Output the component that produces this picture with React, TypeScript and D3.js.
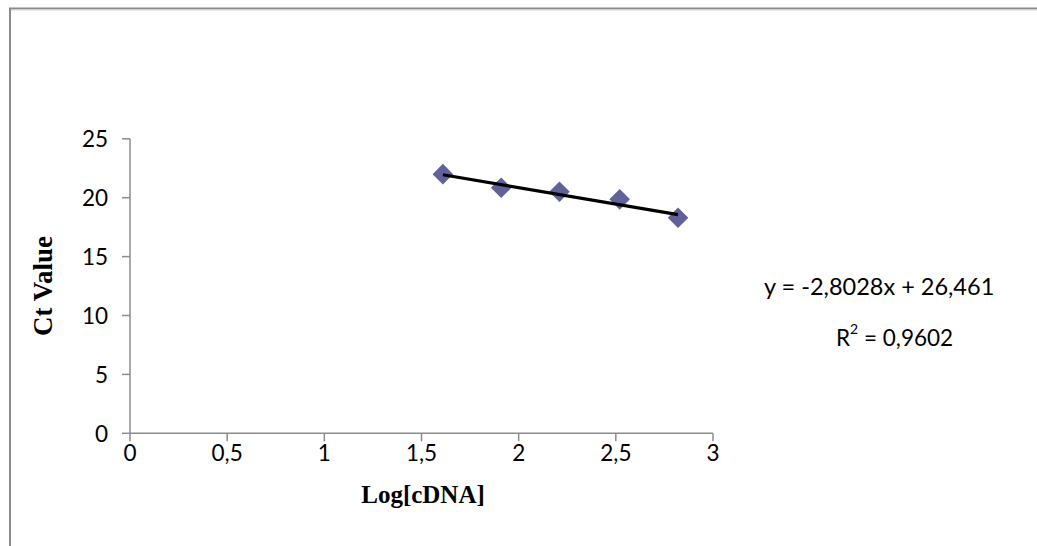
import React from "react";
import * as d3 from "d3";

const logCDNA = [1.61, 1.91, 2.21, 2.52, 2.82];
const ctValues = [22.0, 20.85, 20.5, 19.86, 18.3];
const xTicks = [0, 0.5, 1, 1.5, 2, 2.5, 3];
const yTicks = [0, 5, 10, 15, 20, 25];
const slope = -2.8028;
const intercept = 26.461;
const equationText = "y = -2,8028x + 26,461";
const r2Text = "0,9602";

const W = 1037;
const H = 546;

export default function App() {
  const x = d3.scaleLinear().domain([0, 3]).range([130, 713]);
  const y = d3.scaleLinear().domain([0, 25]).range([433.3, 138.8]);
  const fmt = (v: number) => String(v).replace(".", ",");
  const [x0, x1] = d3.extent(logCDNA) as [number, number];
  const trend = d3.line<number>().x((d) => x(d)).y((d) => y(slope * d + intercept));
  const diamond = d3.symbol().type(d3.symbolDiamond2).size(270)();
  const tickFont = "Lato, 'Open Sans', sans-serif";
  const tickSize = 22.5;
  const axisColor = "#8c8c8c";
  const serif = "'Liberation Serif', 'Times New Roman', serif";

  return (
    <svg
      width={W}
      height={H}
      style={{ position: "absolute", left: 0, top: 0, display: "block", background: "#fff" }}
    >
      <rect x={10} y={8.5} width={W + 20} height={H + 20} fill="#fff" stroke="#8a8a8a" strokeWidth={2} />
      <line x1={11} y1={10} x2={W} y2={10} stroke="#d6d6d6" strokeWidth={1} />
      {/* y axis */}
      <line x1={x(0)} y1={y(25)} x2={x(0)} y2={y(0)} stroke={axisColor} strokeWidth={1.5} />
      {yTicks.map((t) => (
        <g key={"y" + t}>
          <line x1={x(0) - 8} x2={x(0)} y1={y(t)} y2={y(t)} stroke={axisColor} strokeWidth={1.5} />
          <text
            x={x(0) - 22}
            y={y(t)}
            textAnchor="end"
            dominantBaseline="central"
            fontFamily={tickFont}
            fontSize={tickSize}
            fill="#000"
          >
            {fmt(t)}
          </text>
        </g>
      ))}
      {/* x axis */}
      <line x1={x(0)} y1={y(0)} x2={x(3)} y2={y(0)} stroke={axisColor} strokeWidth={1.5} />
      {xTicks.map((t) => (
        <g key={"x" + t}>
          <line x1={x(t)} x2={x(t)} y1={y(0)} y2={y(0) + 8} stroke={axisColor} strokeWidth={1.5} />
          <text
            x={x(t)}
            y={y(0) + 19}
            textAnchor="middle"
            dominantBaseline="central"
            fontFamily={tickFont}
            fontSize={tickSize}
            fill="#000"
          >
            {fmt(t)}
          </text>
        </g>
      ))}
      {/* markers */}
      {logCDNA.map((v, i) => (
        <path key={"m" + i} d={diamond || ""} transform={`translate(${x(v)},${y(ctValues[i])})`} fill="#62629a" />
      ))}
      {/* trendline */}
      <path d={trend([x0, x1]) || ""} fill="none" stroke="#000" strokeWidth={3.2} />
      {/* axis titles */}
      <text
        x={423}
        y={494}
        textAnchor="middle"
        dominantBaseline="central"
        fontFamily={serif}
        fontWeight="bold"
        fontSize={25}
      >
        Log[cDNA]
      </text>
      <text
        transform={`translate(43,286) rotate(-90)`}
        textAnchor="middle"
        dominantBaseline="central"
        fontFamily={serif}
        fontWeight="bold"
        fontSize={27}
      >
        Ct Value
      </text>
      {/* equation */}
      <text x={764} y={286} dominantBaseline="central" fontFamily={tickFont} fontSize={23.5}>
        {equationText}
      </text>
      <text x={836} y={337} dominantBaseline="central" fontFamily={tickFont} fontSize={tickSize}>
        R<tspan dy={-9} fontSize={14}>2</tspan>
        <tspan dy={9}>{" = " + r2Text}</tspan>
      </text>
    </svg>
  );
}
